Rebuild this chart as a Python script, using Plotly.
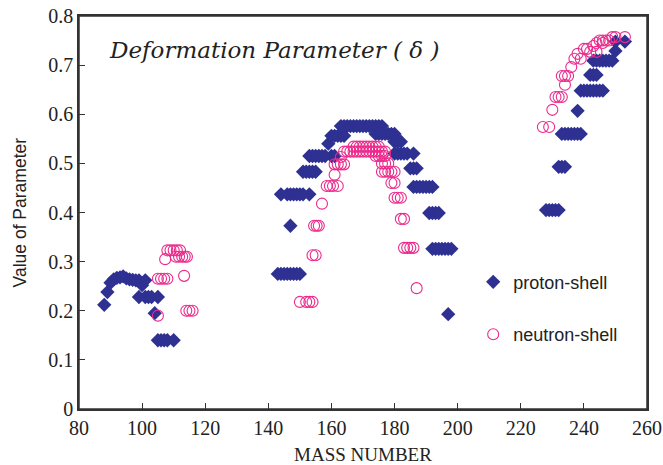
import plotly.graph_objects as go

# proton-shell (filled diamonds)
proton_A = [88, 89, 90, 91, 92, 93, 94, 95, 96, 97, 98, 99, 100, 101,
            99, 101, 102, 103, 105, 104, 105, 106, 107, 108, 110,
            143, 144, 145, 146, 147, 148, 149, 150, 147,
            144, 146, 147, 148, 149, 150, 151, 153,
            151, 152, 153, 154, 155,
            153, 154, 155, 156, 157, 158, 160, 161, 159,
            160, 161, 162, 163, 164,
            163, 164, 165, 166, 167, 168, 169, 170, 171, 172, 173, 174, 175, 176,
            174, 175, 176, 177, 178, 179, 180,
            180, 181, 182,
            180, 181, 182, 183, 184, 186,
            185, 186, 187,
            186, 187, 188, 189, 190, 191, 192,
            191, 192, 193, 194,
            192, 193, 194, 195, 196, 197, 198,
            197,
            228, 229, 230, 231, 232,
            232, 233, 234,
            233, 234, 235, 236, 237, 238, 239,
            238,
            239, 240, 241, 242, 243, 244, 245, 246,
            242, 243, 244,
            243, 244, 245, 246, 247, 248, 249,
            250, 250, 253]
proton_d = [0.212, 0.238, 0.257, 0.264, 0.267, 0.268, 0.27, 0.266, 0.264, 0.263, 0.262, 0.262, 0.252, 0.262,
            0.228, 0.228, 0.228, 0.228, 0.228, 0.195, 0.14, 0.14, 0.14, 0.14, 0.14,
            0.275, 0.275, 0.275, 0.275, 0.275, 0.275, 0.275, 0.275, 0.373,
            0.437, 0.437, 0.437, 0.437, 0.437, 0.437, 0.437, 0.437,
            0.483, 0.483, 0.483, 0.483, 0.483,
            0.515, 0.515, 0.515, 0.515, 0.515, 0.515, 0.515, 0.515, 0.54,
            0.556, 0.556, 0.556, 0.556, 0.556,
            0.576, 0.576, 0.576, 0.576, 0.576, 0.576, 0.576, 0.576, 0.576, 0.576, 0.576, 0.576, 0.576, 0.576,
            0.56, 0.56, 0.56, 0.56, 0.56, 0.56, 0.56,
            0.544, 0.544, 0.544,
            0.52, 0.52, 0.52, 0.52, 0.52, 0.52,
            0.49, 0.49, 0.49,
            0.452, 0.452, 0.452, 0.452, 0.452, 0.452, 0.452,
            0.399, 0.399, 0.399, 0.399,
            0.326, 0.326, 0.326, 0.326, 0.326, 0.326, 0.326,
            0.193,
            0.405, 0.405, 0.405, 0.405, 0.405,
            0.493, 0.493, 0.493,
            0.56, 0.56, 0.56, 0.56, 0.56, 0.56, 0.56,
            0.607,
            0.648, 0.648, 0.648, 0.648, 0.648, 0.648, 0.648, 0.648,
            0.68, 0.68, 0.68,
            0.709, 0.709, 0.709, 0.709, 0.709, 0.709, 0.709,
            0.729, 0.748, 0.748]

# neutron-shell (open circles)
neutron_A = [105, 105, 106, 107, 108, 113.3,
             107.3, 110.7, 111.7, 112.7, 113.5, 114.2,
             108, 109, 110, 111, 112,
             114, 115, 116,
             150, 152, 153, 154,
             154, 155,
             154.5, 155.3, 156,
             157,
             158.5, 159.5, 160.5, 162,
             161,
             161, 162, 163, 164,
             163,
             164, 165, 166, 167, 168, 169, 170, 171, 172, 173, 174, 175, 176, 177,
             167, 168, 169, 170, 171, 172, 173, 174, 175,
             174, 175, 176, 177,
             176, 177, 178,
             176, 177, 178, 179, 180,
             179, 180,
             180, 181, 182,
             182, 183,
             183, 184, 185, 186,
             187,
             227, 229, 230, 231, 232, 233, 234, 233, 234, 235, 236,
             237, 239, 238, 240, 241, 242, 244, 243, 244, 246,
             245, 246, 247, 248, 249, 250, 253]
neutron_d = [0.19, 0.265, 0.265, 0.265, 0.265, 0.271,
             0.305, 0.31, 0.31, 0.31, 0.31, 0.31,
             0.323, 0.323, 0.323, 0.323, 0.323,
             0.2, 0.2, 0.2,
             0.218, 0.218, 0.218, 0.218,
             0.313, 0.313,
             0.373, 0.373, 0.373,
             0.418,
             0.454, 0.454, 0.454, 0.454,
             0.477,
             0.498, 0.498, 0.498, 0.498,
             0.513,
             0.524, 0.524, 0.524, 0.524, 0.524, 0.524, 0.524, 0.524, 0.524, 0.524, 0.524, 0.524, 0.524, 0.524,
             0.534, 0.534, 0.534, 0.534, 0.534, 0.534, 0.534, 0.534, 0.534,
             0.515, 0.515, 0.515, 0.515,
             0.5, 0.5, 0.5,
             0.483, 0.483, 0.483, 0.483, 0.483,
             0.46, 0.46,
             0.43, 0.43, 0.43,
             0.387, 0.387,
             0.328, 0.328, 0.328, 0.328,
             0.246,
             0.574, 0.574, 0.609, 0.635, 0.635, 0.635, 0.66, 0.678, 0.678, 0.678, 0.696,
             0.713, 0.713, 0.723, 0.733, 0.733, 0.727, 0.727, 0.739, 0.745, 0.745,
             0.75, 0.75, 0.75, 0.75, 0.757, 0.757, 0.757]

x_ticks = [80, 100, 120, 140, 160, 180, 200, 220, 240, 260]
y_ticks = [0, 0.1, 0.2, 0.3, 0.4, 0.5, 0.6, 0.7, 0.8]
y_tick_text = ["0", "0.1", "0.2", "0.3", "0.4", "0.5", "0.6", "0.7", "0.8"]

NAVY = "#2E3192"
PINK = "#EC2A8C"
SERIF = "Liberation Serif, DejaVu Serif, serif"
SANS = "Liberation Sans, Arial, sans-serif"

fig = go.Figure()
fig.add_trace(go.Scatter(x=proton_A, y=proton_d, mode="markers", name="proton-shell",
                         legendgroup="p",
                         marker=dict(symbol="diamond", size=11, color=NAVY, line=dict(width=0))))
fig.add_trace(go.Scatter(x=neutron_A, y=neutron_d, mode="markers", name="neutron-shell",
                         legendgroup="n",
                         marker=dict(symbol="circle-open", size=11, color=PINK, line=dict(width=1.1, color=PINK))))

fig.update_layout(
    width=663, height=465,
    margin=dict(l=79, r=16, t=16, b=56, autoexpand=False),
    paper_bgcolor="white", plot_bgcolor="white",
    showlegend=True,
    legend=dict(x=0.694, y=0.37, xanchor="left", yanchor="top",
                font=dict(family=SANS, size=18, color="#222"),
                bgcolor="rgba(0,0,0,0)", tracegroupgap=26, itemwidth=30),
    xaxis=dict(range=[80, 260], tickvals=x_ticks, ticks="inside", ticklen=6, automargin=False,
               ticklabeloverflow="allow",
               tickcolor="#333", showline=True, linecolor="#333", linewidth=1.5, mirror=True,
               showgrid=False, zeroline=False,
               tickfont=dict(family=SERIF, size=20, color="#222"),
               title=dict(text="MASS NUMBER", font=dict(family=SERIF, size=19, color="#222"), standoff=10)),
    yaxis=dict(range=[0, 0.8], tickvals=y_ticks, ticktext=y_tick_text, ticks="inside", ticklen=6, automargin=False,
               ticklabeloverflow="allow",
               tickcolor="#333", showline=True, linecolor="#333", linewidth=1.5, mirror=True,
               showgrid=False, zeroline=False,
               tickfont=dict(family=SERIF, size=20, color="#222")),
    shapes=[dict(type="rect", xref="paper", yref="paper", x0=0, x1=1, y0=0, y1=1,
                 line=dict(color="#333", width=1.5), fillcolor="rgba(0,0,0,0)", layer="above")],
    annotations=[
        dict(x=89, y=0.73, xref="x", yref="y", xanchor="left", yanchor="middle",
             text="<i>Deformation Parameter ( δ )</i>", showarrow=False,
             font=dict(family="DejaVu Serif, serif", size=23, color="#222")),
        dict(x=-0.104, y=0.5, xref="paper", yref="paper", xanchor="center", yanchor="middle",
             text="Value of Parameter", textangle=-90, showarrow=False,
             font=dict(family=SANS, size=17.5, color="#222")),
    ],
)

# remove the default 8px page margin so the figure sits at the window's corner
fig.write_html("out.html", config={"displayModeBar": False},
               post_script="document.body.style.margin='0';")
